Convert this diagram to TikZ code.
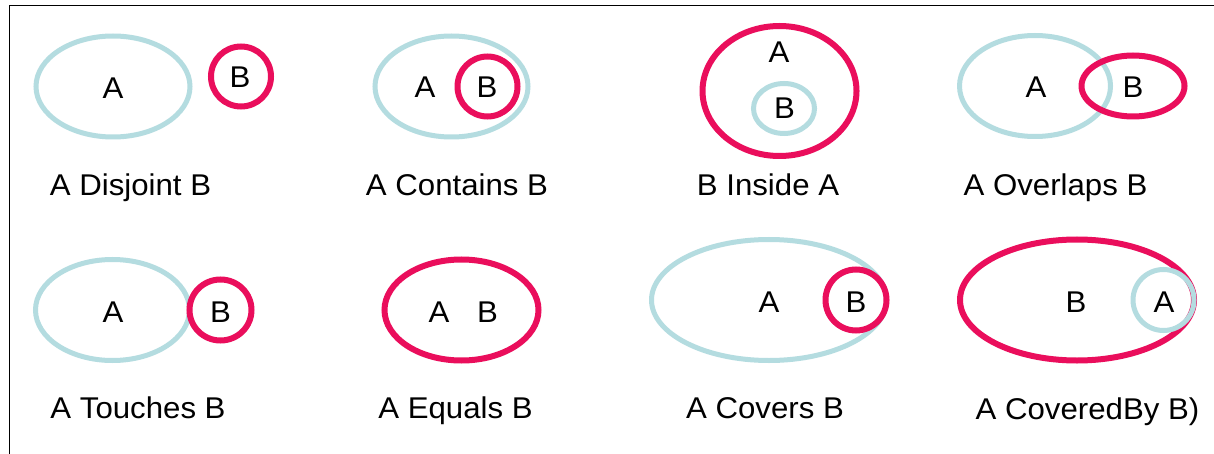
\documentclass[tikz,border=0pt]{standalone}
\usepackage{fontspec}
\setmainfont{Liberation Sans}
\newfontfamily\lblfont[FakeStretch=1.04]{Liberation Sans}
\definecolor{ringcyan}{RGB}{180,220,224}
\definecolor{ringmag}{RGB}{234,14,92}
\tikzset{
  cyanring/.style={draw=ringcyan, line width=5pt},
  magring/.style={draw=ringmag, line width=6pt},
  letter/.style={anchor=base, inner sep=0pt, font=\lblfont\fontsize{30}{30}\selectfont},
  caption/.style={anchor=base, inner sep=0pt, font=\lblfont\fontsize{30}{30}\selectfont},
  frameline/.style={draw=black, line width=1pt}
}
\begin{document}
\begin{tikzpicture}[x=1pt, y=-1pt]
\useasboundingbox (0,0) rectangle (1214,454);
\fill[white] (0,0) rectangle (1214,454);
% frame
\coordinate (fTR) at (1214,6);
\coordinate (fTL) at (9.5,6);
\coordinate (fBL) at (9.5,454);
\draw[frameline] (fTR) -- (fTL) -- (fBL);

% ---- Row 1 ----
% Disjoint
\draw[cyanring] (113,86.5) ellipse [x radius=77, y radius=50.5];
\draw[magring] (241,76.5) circle [radius=30];
\node[letter] (dA) at (113,99) {A};
\node[letter] (dB) at (240,88) {B};
\node[caption] (dL) at (130.5,196) {A Disjoint B};

% Contains
\draw[cyanring] (451.5,86.5) ellipse [x radius=76.5, y radius=50.5];
\draw[magring] (487.5,86.5) circle [radius=30];
\node[letter] (cA) at (425,98) {A};
\node[letter] (cB) at (487,98) {B};
\node[caption] (cL) at (457,196) {A Contains B};

% Inside
\draw[magring] (779.5,91) ellipse [x radius=77, y radius=65];
\draw[cyanring] (784,108.5) ellipse [x radius=30.5, y radius=25];
\node[letter] (iA) at (779,63) {A};
\node[letter] (iB) at (784.5,119) {B};
\node[caption] (iL) at (768,196) {B Inside A};

% Overlaps
\draw[cyanring] (1035,86) ellipse [x radius=75.5, y radius=50.5];
\draw[magring] (1133,86) ellipse [x radius=51.5, y radius=30.5];
\node[letter] (oA) at (1036,98) {A};
\node[letter] (oB) at (1133,98) {B};
\node[caption] (oL) at (1055.5,196) {A Overlaps B};

% ---- Row 2 ----
% Touches
\draw[cyanring] (112.5,310) ellipse [x radius=77, y radius=50.5];
\draw[magring] (220.5,310) ellipse [x radius=31, y radius=30.5];
\node[letter] (tA) at (113,322) {A};
\node[letter] (tB) at (220.5,322) {B};
\node[caption] (tL) at (138,418) {A Touches B};

% Equals
\draw[magring] (461.5,310) ellipse [x radius=77, y radius=50.5];
\node[letter] (eA) at (439,322) {A};
\node[letter] (eB) at (487.5,322) {B};
\node[caption] (eL) at (455.5,418) {A Equals B};

% Covers
\draw[cyanring] (769,300) ellipse [x radius=117.5, y radius=60.5];
\draw[magring] (856,300) circle [radius=30.5];
\node[letter] (vA) at (769,312) {A};
\node[letter] (vB) at (856,312) {B};
\node[caption] (vL) at (765,418) {A Covers B};

% CoveredBy
\draw[magring] (1077,300) ellipse [x radius=117, y radius=60.5];
\draw[cyanring] (1163.5,300) circle [radius=30.5];
\node[letter] (yB) at (1076,312) {B};
\node[letter] (yA) at (1164,312) {A};
\node[caption] (yL) at (1087.5,419) {A CoveredBy B)};
\end{tikzpicture}
\end{document}
